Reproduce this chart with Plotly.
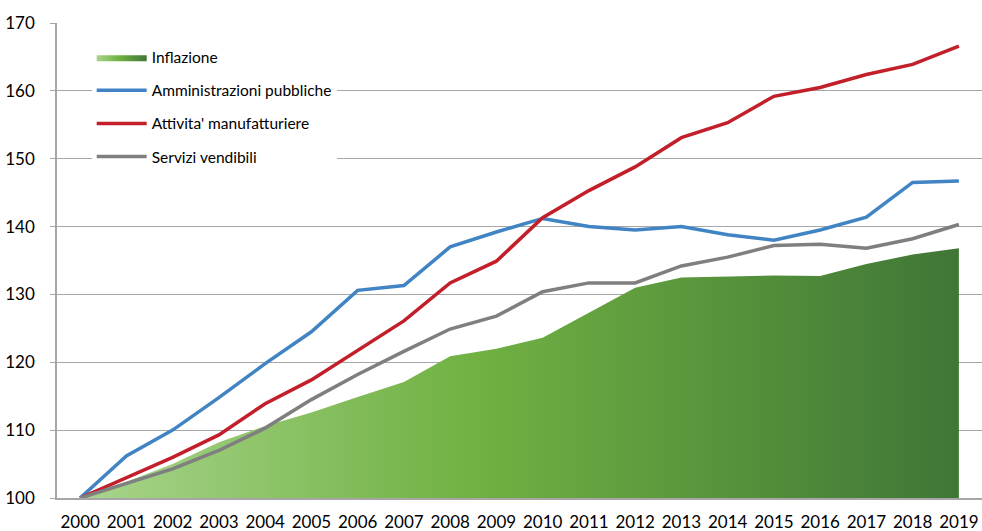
import plotly.graph_objects as go

years = [str(y) for y in range(2000, 2020)]
inflazione = [100, 102.4, 105.0, 108.2, 110.6, 112.6, 114.9, 117.1, 120.9, 122.0,
              123.6, 127.3, 131.0, 132.5, 132.7, 132.8, 132.7, 134.5, 135.9, 136.8]
amm_pubbliche = [100, 106.2, 110.0, 114.8, 119.8, 124.5, 130.6, 131.3, 137.0, 139.2,
                 141.2, 140.0, 139.5, 140.0, 138.8, 138.0, 139.5, 141.4, 146.5, 146.7]
manifatturiere = [100, 103.0, 106.0, 109.3, 113.9, 117.4, 121.8, 126.1, 131.7, 134.9,
                  141.3, 145.3, 148.8, 153.1, 155.3, 159.2, 160.5, 162.4, 163.9, 166.6]
servizi = [100, 102.1, 104.3, 107.0, 110.3, 114.5, 118.2, 121.6, 124.9, 126.8,
           130.4, 131.7, 131.7, 134.2, 135.5, 137.2, 137.4, 136.8, 138.2, 140.3]

yticks = [100, 110, 120, 130, 140, 150, 160, 170]

font_family = "Lato, 'Open Sans', sans-serif"

fig = go.Figure()
fig.add_trace(go.Scatter(
    x=years, y=inflazione, name="Inflazione", mode="lines",
    fill="tozeroy", line=dict(width=0, color="#6aa843"),
    fillgradient=dict(type="horizontal",
                      colorscale=[[0, "#a8d48c"], [0.45, "#70b142"], [1, "#3f7636"]]),
    legendgroup="a", hoverinfo="skip",
))
fig.add_trace(go.Scatter(
    x=years, y=amm_pubbliche, name="Amministrazioni pubbliche", mode="lines",
    line=dict(width=3.5, color="#4184c4"), legendgroup="b",
))
fig.add_trace(go.Scatter(
    x=years, y=manifatturiere, name="Attivita' manufatturiere", mode="lines",
    line=dict(width=3.5, color="#c21f2a"), legendgroup="c",
))
fig.add_trace(go.Scatter(
    x=years, y=servizi, name="Servizi vendibili", mode="lines",
    line=dict(width=3.5, color="#7f7f7f"), legendgroup="d",
))

fig.update_layout(
    width=982, height=531,
    margin=dict(l=57, r=0, t=23, b=33, autoexpand=False),
    paper_bgcolor="white", plot_bgcolor="white",
    font=dict(family=font_family, size=17, color="#000000"),
    showlegend=True,
    legend=dict(
        x=0.0375, y=0.963, xanchor="left", yanchor="top",
        bgcolor="white", font=dict(size=15.5, family=font_family),
        traceorder="grouped", tracegroupgap=10, itemwidth=50,
    ),
    xaxis=dict(
        type="category", range=[-0.5, 19.5], automargin=False,
        showgrid=False, showline=True, linecolor="#a6a6a6", linewidth=1.5,
        ticks="outside", ticklen=8, tickcolor="rgba(0,0,0,0)",
        tickfont=dict(size=17), fixedrange=True,
    ),
    yaxis=dict(
        range=[100, 170], tickvals=yticks, automargin=False,
        showgrid=True, gridcolor="#a6a6a6", gridwidth=1.2,
        showline=True, linecolor="#a6a6a6", linewidth=1.5,
        ticks="outside", ticklen=5, tickcolor="#a6a6a6",
        ticklabelstandoff=12, zeroline=False,
        tickfont=dict(size=17), fixedrange=True,
    ),
)

fig.write_html(
    "out.html",
    config={"displayModeBar": False},
    post_script="document.body.style.margin='0px';document.body.style.overflow='hidden';",
)
